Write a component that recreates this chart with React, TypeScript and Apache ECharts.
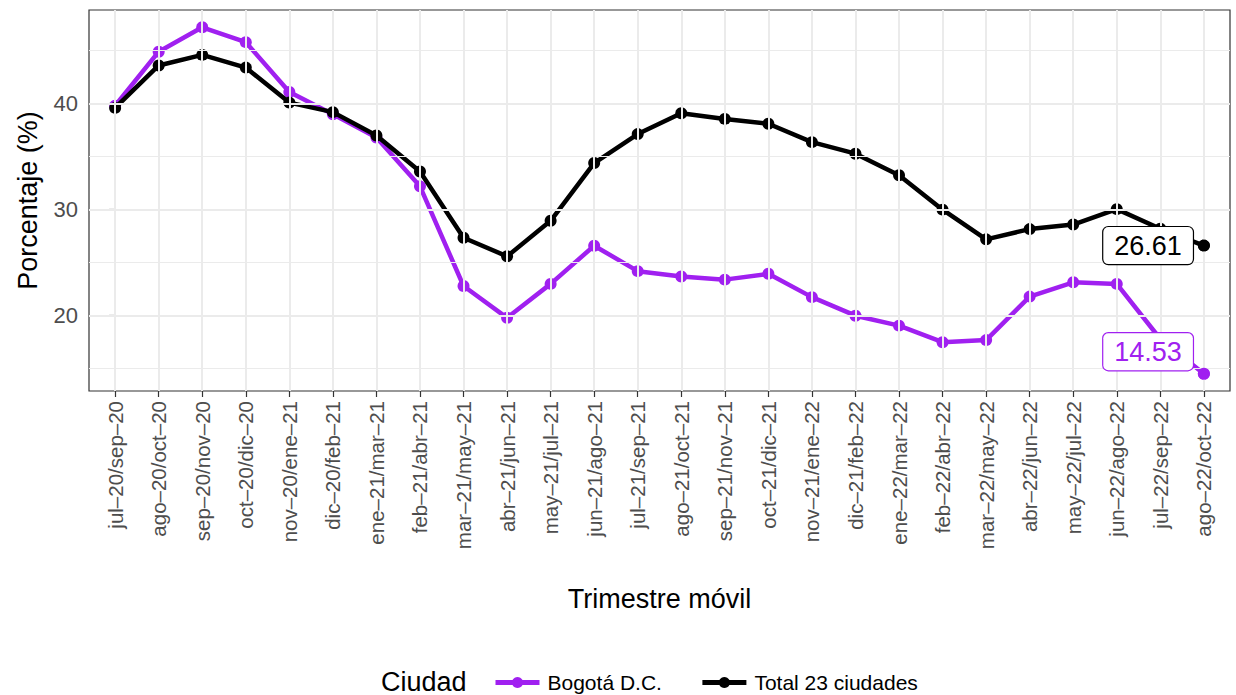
import React, { useEffect, useRef } from "react";
import * as echarts from "echarts";

const categories = [
  "jul–20/sep–20", "ago–20/oct–20", "sep–20/nov–20", "oct–20/dic–20",
  "nov–20/ene–21", "dic–20/feb–21", "ene–21/mar–21", "feb–21/abr–21",
  "mar–21/may–21", "abr–21/jun–21", "may–21/jul–21", "jun–21/ago–21",
  "jul–21/sep–21", "ago–21/oct–21", "sep–21/nov–21", "oct–21/dic–21",
  "nov–21/ene–22", "dic–21/feb–22", "ene–22/mar–22", "feb–22/abr–22",
  "mar–22/may–22", "abr–22/jun–22", "may–22/jul–22", "jun–22/ago–22",
  "jul–22/sep–22", "ago–22/oct–22",
];

const bogota = [
  39.8, 44.9, 47.2, 45.8, 41.1, 39.0, 36.8, 32.2, 22.8, 19.8, 23.0, 26.6, 24.2,
  23.7, 23.4, 23.95, 21.75, 20.0, 19.06, 17.5, 17.7, 21.8, 23.15, 23.0, 17.8, 14.53,
];

const total23 = [
  39.6, 43.6, 44.6, 43.4, 40.1, 39.2, 37.0, 33.6, 27.35, 25.6, 28.95, 34.4, 37.13,
  39.1, 38.56, 38.1, 36.37, 35.28, 33.24, 30.0, 27.2, 28.17, 28.6, 30.05, 28.2, 26.61,
];

const seriesNames = ["Bogotá D.C.", "Total 23 ciudades"];
const seriesColors = ["#A020F0", "#000000"];
const yMajorTicks = [20, 30, 40];
const yMinorTicks = [15, 25, 35, 45];
const legendTitle = "Ciudad";
const xTitle = "Trimestre móvil";
const yTitle = "Porcentaje (%)";

const FONT = "'Liberation Sans', Arial, Helvetica, sans-serif";

export default function App() {
  const ref = useRef<HTMLDivElement>(null);

  useEffect(() => {
    if (!ref.current) return;
    const chart = echarts.init(ref.current, null, { renderer: "svg" });

    const all = [...bogota, ...total23];
    const dMin = Math.min(...all);
    const dMax = Math.max(...all);
    const span = dMax - dMin;
    const yMin = dMin - 0.05 * span;
    const yMax = dMax + 0.05 * span;
    const idx = categories.map((_, i) => i);
    const lastI = categories.length - 1;

    const gridLine = (w: number) => ({ color: "#EBEBEB", width: w, type: "solid" });

    const lineSeries = (name: string, vals: number[], color: string, z: number) => ({
      name,
      type: "line",
      z,
      data: vals.map((v, i) => [i, v]),
      color,
      symbol: "circle",
      symbolSize: 12,
      lineStyle: { width: 4.5, color },
      itemStyle: { color, opacity: 1 },
    });

    const labelSeries = (name: string, vals: number[], color: string, offsetY: number) => ({
      name: name + " etiqueta",
      type: "scatter",
      z: 10,
      silent: true,
      symbol: "circle",
      symbolSize: 12,
      itemStyle: { color, opacity: 1 },
      data: [[lastI, vals[lastI]]],
      label: {
        show: true,
        opacity: 1,
        position: "left",
        distance: 5,
        offset: [0, offsetY],
        formatter: () => vals[lastI].toFixed(2),
        color,
        fontSize: 27,
        fontFamily: FONT,
        backgroundColor: "#FFFFFF",
        borderColor: color,
        borderWidth: 1.2,
        borderRadius: 5,
        padding: [6, 11, 4, 11],
      },
    });

    chart.setOption({
      animation: false,
      grid: {
        left: 89,
        right: 6,
        top: 10,
        bottom: 695 - 391,
        show: true,
        borderColor: "#333333",
        borderWidth: 1.2,
        backgroundColor: "transparent",
      },
      xAxis: {
        type: "value",
        min: -0.6,
        max: lastI + 0.6,
        name: xTitle,
        nameLocation: "middle",
        nameGap: 194,
        nameTextStyle: { fontSize: 27, color: "#000", fontFamily: FONT },
        axisLine: { show: false },
        splitLine: { show: false },
        axisTick: {
          show: true,
          customValues: idx,
          length: 6,
          lineStyle: { color: "#333333", width: 1.2 },
        },
        axisLabel: {
          customValues: idx,
          rotate: 90,
          margin: 10,
          fontSize: 20.5,
          color: "#4D4D4D",
          fontFamily: FONT,
          formatter: (v: number) => categories[Math.round(v)] ?? "",
        },
      },
      yAxis: {
        type: "value",
        min: yMin,
        max: yMax,
        name: yTitle,
        nameLocation: "middle",
        nameGap: 48,
        nameTextStyle: { fontSize: 27, color: "#000", fontFamily: FONT },
        axisLine: { show: false },
        splitLine: { show: false },
        axisTick: {
          show: true,
          customValues: yMajorTicks,
          length: 6,
          lineStyle: { color: "#333333", width: 1.2 },
        },
        axisLabel: {
          customValues: yMajorTicks,
          margin: 11,
          fontSize: 22,
          color: "#4D4D4D",
          fontFamily: FONT,
        },
      },
      legend: {
        data: seriesNames,
        left: 488,
        top: 667,
        padding: 5,
        itemWidth: 44,
        itemHeight: 14,
        itemGap: 38,
        lineStyle: { width: 5 },
        textStyle: { fontSize: 21, color: "#000", fontFamily: FONT, padding: [0, 0, 0, 3] },
      },
      graphic: [
        {
          type: "text",
          left: 381,
          top: 668,
          style: { text: legendTitle, fontSize: 27, fill: "#000", fontFamily: FONT },
        },
      ],
      series: [
        {
          type: "line",
          silent: true,
          data: [],
          z: 1,
          markLine: {
            silent: true,
            symbol: "none",
            animation: false,
            label: { show: false },
            data: [
              ...yMinorTicks.map((v) => ({ yAxis: v, lineStyle: gridLine(1) })),
              ...yMajorTicks.map((v) => ({ yAxis: v, lineStyle: gridLine(2) })),
              ...idx.map((v) => ({ xAxis: v, lineStyle: gridLine(2) })),
            ],
          },
        },
        lineSeries(seriesNames[0], bogota, seriesColors[0], 3),
        lineSeries(seriesNames[1], total23, seriesColors[1], 4),
        labelSeries(seriesNames[0], bogota, seriesColors[0], -22),
        labelSeries(seriesNames[1], total23, seriesColors[1], 0),
      ],
    });

    return () => chart.dispose();
  }, []);

  return (
    <div
      ref={ref}
      style={{ position: "fixed", left: 0, top: 0, width: 1236, height: 695, background: "#fff" }}
    />
  );
}
